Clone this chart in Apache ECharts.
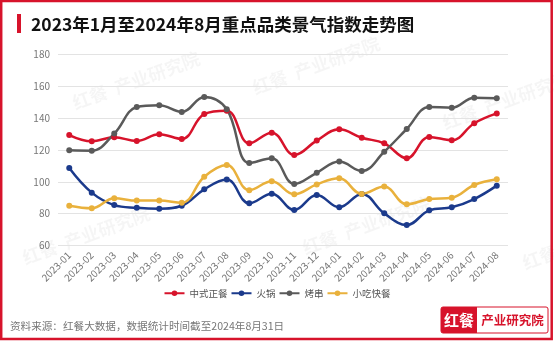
<!DOCTYPE html>
<html><head><meta charset="utf-8">
<script src="https://cdn.jsdelivr.net/npm/echarts@6/dist/echarts.min.js"></script>
<style>html,body{margin:0;padding:0;background:#fff}#c{width:554px;height:342px}</style>
</head><body><div id="c"></div>
<script>
const categories = ['2023-01','2023-02','2023-03','2023-04','2023-05','2023-06','2023-07','2023-08','2023-09','2023-10','2023-11','2023-12','2024-01','2024-02','2024-03','2024-04','2024-05','2024-06','2024-07','2024-08'];
const zhongshi = [129.4,125.5,128,125.7,129.9,126.9,142.6,144.7,124.2,130.9,116.9,125.9,133,127.7,124.2,114.8,128.2,126.1,136.8,143];
const huoguo = [108.7,93.2,85.4,83.7,83.1,85,95.3,101.4,86.5,92.5,82.3,91.7,84,92.4,80.2,72.9,82.1,84,89.2,97.6];
const kaochuan = [119.8,119.6,130.3,147,148.1,143.9,153.3,145.6,111.8,114.8,98.6,105.7,112.7,106.8,118.9,133.2,147,146.6,152.9,152.5];
const xiaochi = [85,83.4,89.7,88.2,88.2,86.9,103.2,110.6,94.7,100.3,92.2,98.4,102.2,92.4,97,85.9,89.2,90,98,101.6];
const seriesNames = ['中式正餐','火锅','烤串','小吃快餐'];
const yTicks = {min:60, max:180, interval:20};

const colors = ['#d7132b','#1b3a8c','#5a5a5a','#e9b13c'];
const font = '"Noto Sans CJK SC", "Noto Sans", sans-serif';
const chart = echarts.init(document.getElementById('c'));
const wm = [];
[[70,95],[250,80],[440,115],[20,250],[300,240],[520,255]].forEach(p=>{
  wm.push({type:'text', x:p[0], y:p[1], rotation:0.35, style:{text:'红餐  产业研究院', fill:'rgba(0,0,0,0.04)', font:'bold 18px '+font}, z:0});
});
const mk = (name, data, i) => ({
  name, type:'line', data, smooth:0.4, symbol:'circle', symbolSize:6,
  lineStyle:{width:2.5, color:colors[i]}, itemStyle:{color:colors[i]}
});
chart.setOption({
  animation:false,
  textStyle:{fontFamily:font},
  grid:{left:58, right:46, top:54.5, bottom:96.5},
  xAxis:{type:'category', data:categories, boundaryGap:true,
    axisLine:{show:false}, axisTick:{show:false},
    axisLabel:{rotate:45, color:'#777', fontSize:10, margin:8, interval:0}},
  yAxis:{type:'value', min:yTicks.min, max:yTicks.max, interval:yTicks.interval,
    axisLabel:{color:'#777', fontSize:10, margin:8},
    splitLine:{lineStyle:{color:'#e3e3e3', width:1}}},
  legend:{bottom:39, left:'center', itemWidth:20, itemHeight:7, itemGap:3,
    textStyle:{color:'#555', fontSize:9.5},
    data:seriesNames},
  series:[mk(seriesNames[0],zhongshi,0), mk(seriesNames[1],huoguo,1), mk(seriesNames[2],kaochuan,2), mk(seriesNames[3],xiaochi,3)],
  graphic:[
    ...wm,
    {type:'rect', shape:{x:1.2,y:1,width:550.5,height:338}, style:{fill:'none', stroke:'#d7132b', lineWidth:2.5}, z:10},
    {type:'rect', shape:{x:17,y:14,width:4,height:19}, style:{fill:'#d7132b'}},
    {type:'text', x:31, y:24, style:{text:'2023年1月至2024年8月重点品类景气指数走势图', fill:'#111', font:'bold 17.5px '+font, textVerticalAlign:'middle'}},
    {type:'text', x:10, y:326, style:{text:'资料来源：红餐大数据，数据统计时间截至2024年8月31日', fill:'#777', font:'10.6px '+font, textVerticalAlign:'middle'}},
    {type:'rect', shape:{x:441,y:307,width:107,height:26, r:2}, style:{fill:'#fff', stroke:'#d7132b', lineWidth:1}},
    {type:'rect', shape:{x:441,y:307,width:36,height:26, r:[2,0,0,2]}, style:{fill:'#d7132b'}},
    {type:'text', x:459, y:320, style:{text:'红餐', fill:'#fff', font:'bold 15px '+font, textAlign:'center', textVerticalAlign:'middle'}},
    {type:'text', x:512.5, y:320, style:{text:'产业研究院', fill:'#d7132b', font:'bold 12.5px '+font, textAlign:'center', textVerticalAlign:'middle'}}
  ]
});
</script></body></html>
